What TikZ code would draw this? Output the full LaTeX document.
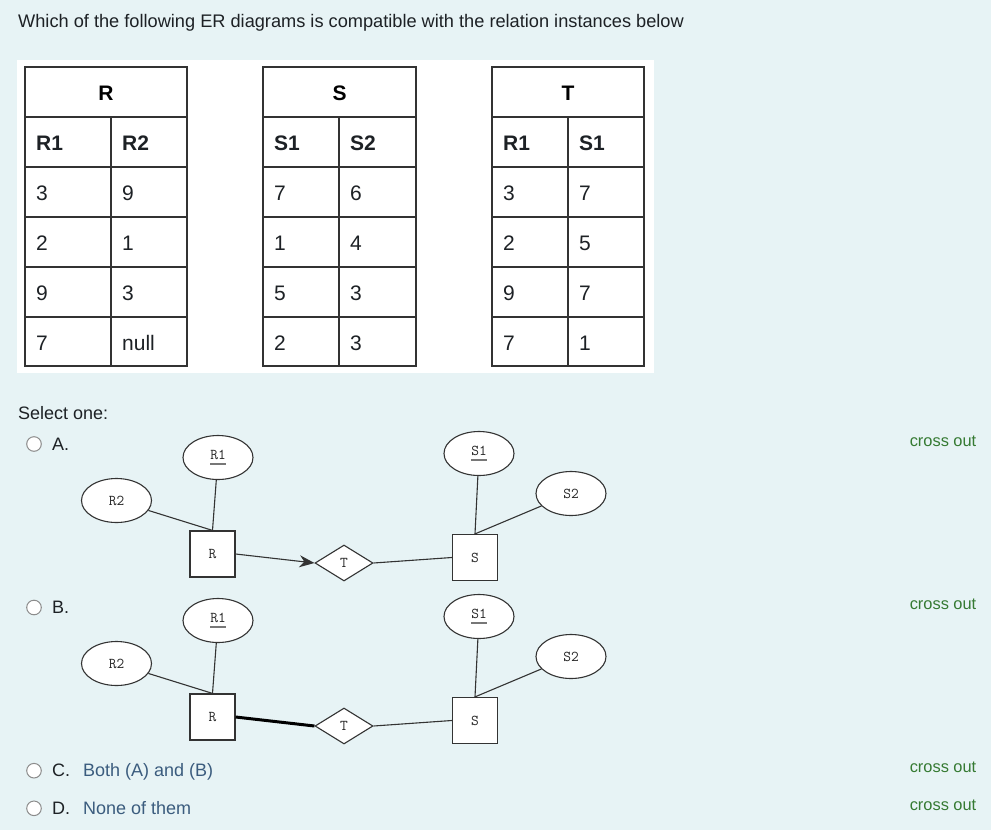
\documentclass[tikz,border=0pt]{standalone}
\usepackage{fontspec}
\setmainfont{Liberation Sans}
\usetikzlibrary{shapes.geometric,arrows.meta}
\definecolor{bg}{HTML}{E7F3F5}
\definecolor{txt}{HTML}{1D2125}
\definecolor{ansblue}{HTML}{3B5C7E}
\definecolor{okgreen}{HTML}{357A32}
\definecolor{tblline}{HTML}{333333}
\definecolor{erline}{HTML}{333333}
\definecolor{ulgray}{HTML}{777777}
\newcommand{\pkey}[1]{\setbox0\hbox{#1}\rlap{\color{ulgray}\rule[-5pt]{\wd0}{1.3pt}}\box0}
\tikzset{
  tbl/.style={draw=tblline, line width=1.5pt},
  hdr/.style={inner sep=0pt, font=\fontsize{21}{21}\selectfont\bfseries, text=black},
  cellx/.style={anchor=base west, inner sep=0pt, font=\fontsize{21}{21}\selectfont, text=txt},
  body/.style={anchor=base west, inner sep=0pt, font=\fontsize{18}{22}\selectfont, text=txt},
  ans/.style={anchor=base west, inner sep=0pt, font=\fontsize{18}{22}\selectfont, text=ansblue},
  xout/.style={anchor=base east, inner sep=0pt, font=\fontsize{16.4}{20}\selectfont, text=okgreen},
  radio/.style={circle, draw=gray!90, fill=white, line width=1pt, minimum size=14.6pt, inner sep=0pt},
  erfont/.style={font=\ttfamily\fontsize{15}{15}\selectfont, text=black!85},
  attr/.style={ellipse, draw=erline, fill=white, line width=1.1pt, minimum width=70pt, minimum height=44pt, inner sep=0pt, erfont},
  entity/.style={rectangle, draw=erline, fill=white, line width=1.2pt, minimum width=45pt, minimum height=46pt, inner sep=0pt, erfont},
  rel/.style={diamond, draw=erline, fill=white, line width=1.1pt, minimum width=58pt, minimum height=36pt, inner sep=0pt, aspect=1.6, erfont},
  conn/.style={draw=erline, line width=1.1pt},
}
\begin{document}
\begin{tikzpicture}[x=1pt,y=-1pt]
\useasboundingbox (0,0) rectangle (991,830);
\fill[bg] (0,0) rectangle (991,830);
\node[body, font=\fontsize{18.2}{22}\selectfont] (title) at (18,27) {Which of the following ER diagrams is compatible with the relation instances below};
\fill[white] (17,60) rectangle (654,373);

% tables
\foreach \tn/\L/\M/\Rr/\H in {r/25/111/187/R, s/263/339/416/S, t/492/568/644/T}{
  \draw[tbl] (\L,67) rectangle (\Rr,366);
  \foreach \yy in {117,167,217,267,317} \draw[tbl] (\L,\yy) -- (\Rr,\yy);
  \draw[tbl] (\M,117) -- (\M,366);
  \node[hdr] (\tn-h) at ({(\L+\Rr)/2},93) {\H};
}
\foreach \a/\b [count=\i] in {R1/R2,3/9,2/1,9/3,7/null}{
  \node[cellx] (r-\i-1) at (36, {142+50*(\i-1)+8.5}) {\ifnum\i=1\bfseries\fi\a};
  \node[cellx] (r-\i-2) at (122, {142+50*(\i-1)+8.5}) {\ifnum\i=1\bfseries\fi\b};
}
\foreach \a/\b [count=\i] in {S1/S2,7/6,1/4,5/3,2/3}{
  \node[cellx] (s-\i-1) at (274, {142+50*(\i-1)+8.5}) {\ifnum\i=1\bfseries\fi\a};
  \node[cellx] (s-\i-2) at (350, {142+50*(\i-1)+8.5}) {\ifnum\i=1\bfseries\fi\b};
}
\foreach \a/\b [count=\i] in {R1/S1,3/7,2/5,9/7,7/1}{
  \node[cellx] (t-\i-1) at (503, {142+50*(\i-1)+8.5}) {\ifnum\i=1\bfseries\fi\a};
  \node[cellx] (t-\i-2) at (579, {142+50*(\i-1)+8.5}) {\ifnum\i=1\bfseries\fi\b};
}

\node[body] (sel) at (18,419) {Select one:};

% options
\node[radio] (radA) at (34,444) {};
\node[body] (labA) at (52,450) {A.};
\node[radio] (radB) at (34,607.5) {};
\node[body] (labB) at (52,613.3) {B.};
\node[radio] (radC) at (34,770.7) {};
\node[body] (labC) at (52,776.7) {C.};
\node[ans] (ansC) at (83,776.7) {Both (A) and (B)};
\node[radio] (radD) at (34,808.3) {};
\node[body] (labD) at (52,814) {D.};
\node[ans] (ansD) at (83,814) {None of them};

\node[xout] (xA) at (976.5,446) {cross out};
\node[xout] (xB) at (976.5,609) {cross out};
\node[xout] (xC) at (976.5,772) {cross out};
\node[xout] (xD) at (976.5,810) {cross out};

% diagram A
\node[attr] (aR1) at (218,457.5) {\pkey{R1}};
\node[attr] (aR2) at (116.5,500.5) {R2};
\node[entity] (aR) at (212.5,554) {R};
\node[rel] (aT) at (344,563) {T};
\node[attr] (aS1) at (479,453.5) {\pkey{S1}};
\node[attr] (aS2) at (571,493.5) {S2};
\node[entity] (aS) at (475,557.5) {S};
\draw[conn] (aR1) -- (aR.north);
\draw[conn] (aR2) -- (aR.north);
\draw[conn] (aS1) -- (aS.north);
\draw[conn] (aS2) -- (aS.north);
\draw[conn, -{Stealth[length=15pt,width=12pt]}] (aR.east) -- (aT.west);
\draw[conn] (aT.east) -- (aS.west);

% diagram B
\node[attr] (bR1) at (218,620.5) {\pkey{R1}};
\node[attr] (bR2) at (116.5,663.5) {R2};
\node[entity] (bR) at (212.5,717) {R};
\node[rel] (bT) at (344,726) {T};
\node[attr] (bS1) at (479,616.5) {\pkey{S1}};
\node[attr] (bS2) at (571,656.5) {S2};
\node[entity] (bS) at (475,720.5) {S};
\draw[conn] (bR1) -- (bR.north);
\draw[conn] (bR2) -- (bR.north);
\draw[conn] (bS1) -- (bS.north);
\draw[conn] (bS2) -- (bS.north);
\draw[draw=black, line width=3pt] (bR.east) -- (bT.west);
\draw[conn] (bT.east) -- (bS.west);
\end{tikzpicture}
\end{document}
